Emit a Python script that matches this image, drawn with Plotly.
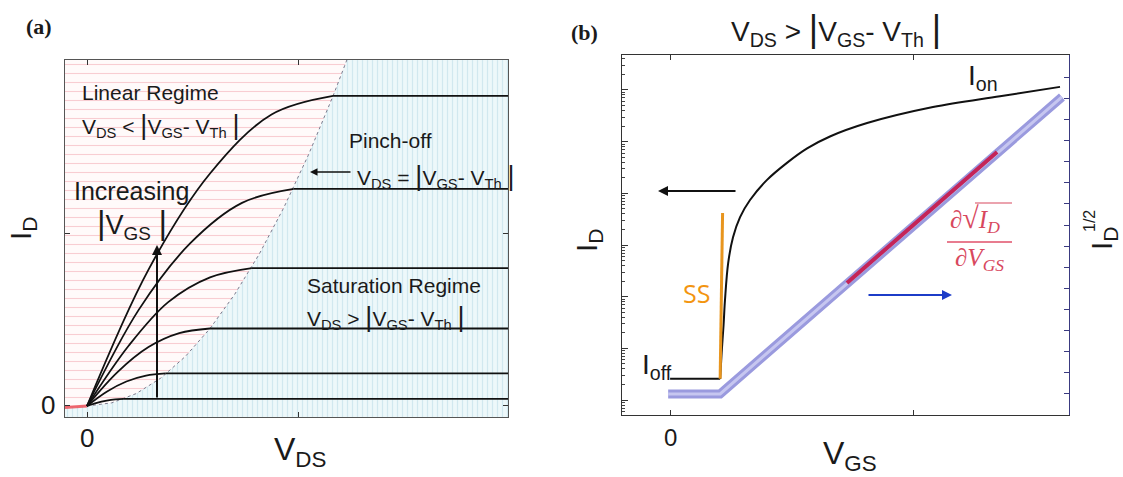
import plotly.graph_objects as go

W, H = 1123, 477

# ---------------- Panel (a): output characteristics ----------------
vds_curves = [
    [0, 0.25, 0.50, 0.75, 1.00, 1.711],
    [0, 0.21, 0.42, 0.63, 0.84, 1.711],
    [0, 0.17, 0.33, 0.50, 0.67, 1.711],
    [0, 0.125, 0.25, 0.375, 0.50, 1.711],
    [0, 0.08, 0.16, 0.24, 0.32, 1.711],
    [0, 0.04, 0.08, 0.115, 0.15, 1.711],
]
id_curves = [
    [0, 0.44, 0.75, 0.94, 1.00, 1.00],
    [0, 0.31, 0.525, 0.655, 0.70, 0.70],
    [0, 0.195, 0.335, 0.415, 0.445, 0.445],
    [0, 0.11, 0.19, 0.235, 0.25, 0.25],
    [0, 0.046, 0.079, 0.098, 0.105, 0.105],
    [0, 0.010, 0.017, 0.021, 0.023, 0.023],
]
pinch_vds = [0, 0.1, 0.2, 0.3, 0.4, 0.5, 0.6, 0.7, 0.8, 0.9, 1.0, 1.056]
pinch_id = [0, 0.01, 0.04, 0.09, 0.16, 0.25, 0.36, 0.49, 0.64, 0.81, 1.0, 1.116]
a_xrange = [-0.0894, 1.711]
a_yrange = [-0.0355, 1.116]
a_xticks = [0, 0.858]
a_yticks = [0, 0.558]

# ---------------- Panel (b): transfer characteristics ----------------
vgs_id = [0.0, 0.206, 0.212, 0.220, 0.226, 0.239, 0.259, 0.288, 0.329, 0.399,
          0.481, 0.564, 0.658, 0.811, 1.082, 1.358, 1.605]
log_id = [-11.59, -11.59, -11.10, -10.55, -10.06, -9.35, -8.85, -8.46, -8.13, -7.74,
          -7.41, -7.13, -6.90, -6.64, -6.33, -6.12, -5.94]
ss_vgs = [0.206, 0.216]
ss_log_id = [-11.59, -8.38]
sqrt_vgs = [-0.008, 0.206, 1.613]
sqrt_id = [1.0, 1.0, 15.07]
fit_vgs = [0.728, 1.346]
fit_sqrt = [6.26, 12.46]
b_xrange = [-0.198, 1.642]
b_logrange = [-12.29, -5.323]
b_y2range = [0, 17.06]
b_xticks = [0, 1]
b_decades = [-12, -11, -10, -9, -8, -7, -6]
b_y2ticks = list(range(1, 17))

fig = go.Figure()

# region fills (a)
red_x = [a_xrange[0], a_xrange[0]] + pinch_vds
red_y = [a_yrange[1], -0.005] + pinch_id
blue_x = pinch_vds + [a_xrange[1], a_xrange[1], a_xrange[0], a_xrange[0]]
blue_y = pinch_id + [a_yrange[1], a_yrange[0], a_yrange[0], -0.005]

fig.add_trace(go.Scatter(x=blue_x, y=blue_y, mode="lines", fill="toself",
                         line=dict(width=0), fillcolor="#ecf7fa",
                         fillpattern=dict(shape="|", fgcolor="rgba(110,175,200,0.45)",
                                          bgcolor="#edf8fa", size=5, solidity=0.25),
                         xaxis="x", yaxis="y", hoverinfo="skip", showlegend=False))
fig.add_trace(go.Scatter(x=red_x, y=red_y, mode="lines", fill="toself",
                         line=dict(width=0), fillcolor="#ffffff",
                         fillpattern=dict(shape="-", fgcolor="rgba(225,70,90,0.5)",
                                          bgcolor="#fffafa", size=9, solidity=0.12),
                         xaxis="x", yaxis="y", hoverinfo="skip", showlegend=False))
fig.add_trace(go.Scatter(x=pinch_vds, y=pinch_id, mode="lines",
                         line=dict(color="rgba(110,110,130,0.9)", width=1, dash="dot"),
                         xaxis="x", yaxis="y", hoverinfo="skip", showlegend=False))
fig.add_trace(go.Scatter(x=[a_xrange[0], 0], y=[-0.005, 0], mode="lines",
                         line=dict(color="rgba(235,70,80,0.8)", width=3),
                         xaxis="x", yaxis="y", hoverinfo="skip", showlegend=False))

for vx, iy in zip(vds_curves, id_curves):
    fig.add_trace(go.Scatter(x=vx[:-1], y=iy[:-1], mode="lines", line_shape="spline",
                             line=dict(color="#111", width=1.8),
                             xaxis="x", yaxis="y", hoverinfo="skip", showlegend=False))
    fig.add_trace(go.Scatter(x=vx[-2:], y=iy[-2:], mode="lines",
                             line=dict(color="#111", width=1.8),
                             xaxis="x", yaxis="y", hoverinfo="skip", showlegend=False))

# panel (b) traces
fig.add_trace(go.Scatter(x=sqrt_vgs, y=sqrt_id, mode="lines",
                         line=dict(color="#9a9ade", width=9),
                         xaxis="x2", yaxis="y3", hoverinfo="skip", showlegend=False))
fig.add_trace(go.Scatter(x=sqrt_vgs, y=sqrt_id, mode="lines",
                         line=dict(color="#c6c6f0", width=3),
                         xaxis="x2", yaxis="y3", hoverinfo="skip", showlegend=False))
fig.add_trace(go.Scatter(x=fit_vgs, y=fit_sqrt, mode="lines",
                         line=dict(color="#c42458", width=4),
                         xaxis="x2", yaxis="y3", hoverinfo="skip", showlegend=False))
id_vals = [10 ** v for v in log_id]
fig.add_trace(go.Scatter(x=vgs_id[:2], y=id_vals[:2], mode="lines",
                         line=dict(color="#111", width=2),
                         xaxis="x2", yaxis="y2", hoverinfo="skip", showlegend=False))
fig.add_trace(go.Scatter(x=vgs_id[1:], y=id_vals[1:], mode="lines", line_shape="spline",
                         line=dict(color="#111", width=2),
                         xaxis="x2", yaxis="y2", hoverinfo="skip", showlegend=False))
fig.add_trace(go.Scatter(x=ss_vgs, y=[10 ** v for v in ss_log_id], mode="lines",
                         line=dict(color="#e8951e", width=3),
                         xaxis="x2", yaxis="y2", hoverinfo="skip", showlegend=False))

minor_vals = [k * 10.0 ** n for n in range(-13, -5) for k in range(2, 10)]

axis_common = dict(showgrid=False, zeroline=False, showline=True, ticks="inside",
                   showticklabels=False, fixedrange=True)

fig.update_layout(
    width=W, height=H, margin=dict(l=0, r=0, t=0, b=0),
    paper_bgcolor="white", plot_bgcolor="white",
    xaxis=dict(domain=[65 / W, 508 / W], range=a_xrange, anchor="y",
               tickvals=a_xticks, ticklen=5, linecolor="#555", tickcolor="#333",
               mirror="ticks", **axis_common),
    yaxis=dict(domain=[1 - 417 / H, 1 - 60 / H], range=a_yrange, anchor="x",
               tickvals=a_yticks, ticklen=5, linecolor="#555", tickcolor="#333",
               mirror="ticks", **axis_common),
    xaxis2=dict(domain=[622 / W, 1069 / W], range=b_xrange, anchor="y2",
                tickvals=b_xticks, ticklen=5, linecolor="#333", tickcolor="#333",
                mirror="ticks", **axis_common),
    yaxis2=dict(domain=[1 - 415 / H, 1 - 55 / H], range=b_logrange, type="log",
                anchor="x2", tickvals=[10.0 ** d for d in b_decades], ticklen=6,
                linecolor="#333", tickcolor="#333",
                minor=dict(tickvals=minor_vals, ticks="inside", ticklen=3,
                           tickcolor="#444", showgrid=False),
                **axis_common),
    yaxis3=dict(domain=[1 - 415 / H, 1 - 55 / H], range=b_y2range, overlaying="y2",
                anchor="x2", side="right", tickvals=b_y2ticks, ticklen=5,
                linecolor="#3a3a80", tickcolor="#3a3a80", **axis_common),
)


def P(x, y):
    return x / W, 1 - y / H


def txt(x, y, s, size, color="#1a1a1a", family="Liberation Sans, Arial",
        xanchor="left", angle=0):
    px, py = P(x, y)
    return dict(x=px, y=py, xref="paper", yref="paper", text=s, showarrow=False,
                font=dict(size=size, color=color, family=family),
                xanchor=xanchor, yanchor="middle", textangle=angle)


def bar(sz):
    return f"<span style='font-size:{sz}px'>|</span>"


def arrow(hx, hy, tx, ty, color="#111", width=2, head=2, size=1):
    px, py = P(hx, hy)
    return dict(x=px, y=py, xref="paper", yref="paper", text="", showarrow=True,
                ax=tx - hx, ay=ty - hy, axref="pixel", ayref="pixel",
                arrowhead=head, arrowsize=size, arrowwidth=width, arrowcolor=color)


B = bar(27)
RED = "#d8485e"
ann = [
    txt(39, 27, "<b>(a)</b>", 22, family="Liberation Serif, serif", xanchor="center"),
    txt(80, 92, "Linear Regime", 21),
    txt(80, 125, f"V<sub>DS</sub> &lt; {B}V<sub>GS</sub>- V<sub>Th</sub> {B}", 21),
    txt(347, 140, "Pinch-off", 21),
    txt(355, 176, f"V<sub>DS</sub> = {B}V<sub>GS</sub>- V<sub>Th</sub> {B}", 21),
    txt(72, 191, "Increasing", 25),
    txt(95, 224, f"{bar(33)}V<sub>GS</sub> {bar(33)}", 27),
    txt(305, 285, "Saturation Regime", 21),
    txt(305, 317, f"V<sub>DS</sub> &gt; {B}V<sub>GS</sub>- V<sub>Th</sub> {B}", 21),
    txt(22, 228, "I<sub>D</sub>", 30, xanchor="center", angle=-90),
    txt(48, 405, "0", 26, xanchor="center"),
    txt(87, 438, "0", 26, xanchor="center"),
    txt(300, 451, "V<sub>DS</sub>", 32, xanchor="center"),
    arrow(157, 245, 157, 399, width=2, head=2),
    arrow(310, 172, 352, 172, width=1.5, head=2),

    txt(584, 33, "<b>(b)</b>", 22, family="Liberation Serif, serif", xanchor="center"),
    txt(836, 30, f"V<sub>DS</sub> &gt; {bar(36)}V<sub>GS</sub>- V<sub>Th</sub> {bar(36)}", 28,
        xanchor="center"),
    txt(966, 78, "I<sub>on</sub>", 28),
    txt(640, 366, "I<sub>off</sub>", 28),
    txt(696, 293, "SS", 25, color="#f39510", family="Open Sans, sans-serif", xanchor="center"),
    txt(948, 219, "∂<span style='font-size:30px'>√</span><i>I</i><sub><i>D</i></sub>", 25,
        color=RED, family="Liberation Serif, serif"),
    txt(979, 259, "∂<i>V</i><sub><i>GS</i></sub>", 25, color=RED,
        family="Liberation Serif, serif", xanchor="center"),
    txt(670, 437, "0", 24, xanchor="center"),
    txt(850, 455, "V<sub>GS</sub>", 32, xanchor="center"),
    txt(588, 240, "I<sub>D</sub>", 30, xanchor="center", angle=-90),
    txt(1103, 238, "I<sub>D</sub>", 30, xanchor="center", angle=-90),
    txt(1089, 221, "1/2", 16, xanchor="center", angle=-90),
    arrow(658, 191, 737, 191, width=2, head=2),
    arrow(952, 295, 867, 295, color="#1c3cc8", width=2, head=2),
]
fig.update_layout(annotations=ann)

fx0, fy0 = P(947, 242)
fx1, _ = P(1012, 242)
rx0, ry0 = P(975, 203)
rx1, _ = P(1012, 203)
fig.update_layout(shapes=[
    dict(type="line", xref="paper", yref="paper", x0=fx0, x1=fx1, y0=fy0, y1=fy0,
         line=dict(color="#e0506a", width=1.5)),
    dict(type="line", xref="paper", yref="paper", x0=rx0, x1=rx1, y0=ry0, y1=ry0,
         line=dict(color=RED, width=1.2)),
])

fig.write_html("out.html", config={"displayModeBar": False},
               post_script="document.body.style.margin='0';")
